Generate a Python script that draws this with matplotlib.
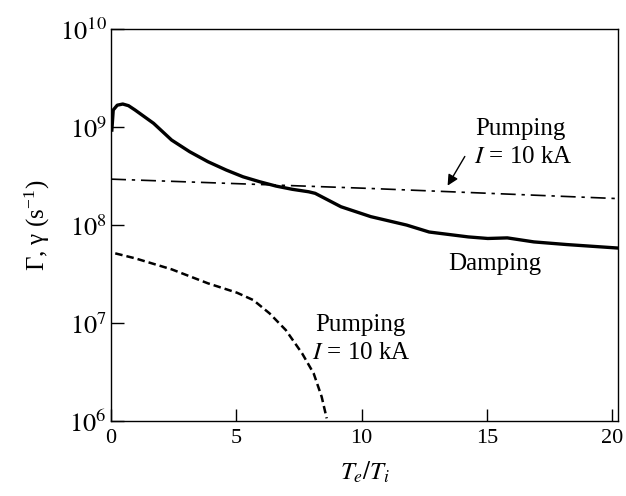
import numpy as np
import matplotlib
matplotlib.use("Agg")
import matplotlib.pyplot as plt

plt.rcParams["font.family"] = ["Liberation Serif", "DejaVu Serif"]
plt.rcParams["mathtext.fontset"] = "stix"

# ── Data (x = Te/Ti, y = rate in s^-1) ───────────────────────────────────────
damping_x = [0.03, 0.09, 0.25, 0.47, 0.7, 0.96, 1.7, 2.42, 3.14, 3.87, 4.60,
             5.27, 5.94, 6.59, 7.24, 7.89, 8.15, 9.18, 10.37, 11.8, 12.7,
             14.26, 15.04, 15.82, 16.88, 18.19, 20.25]
damping_logy = [8.954, 9.176, 9.225, 9.237, 9.22, 9.176, 9.040, 8.869, 8.750,
                8.648, 8.563, 8.494, 8.443, 8.399, 8.366, 8.341, 8.325, 8.188,
                8.087, 8.001, 7.930, 7.880, 7.864, 7.870, 7.829, 7.802, 7.766]

pump_hi_x = [0.0, 5.0, 10.23, 15.0, 20.25]
pump_hi_logy = [8.470, 8.424, 8.376, 8.326, 8.271]

pump_lo_x = [0.17, 0.97, 2.42, 3.87, 5.03, 5.68, 6.33, 6.98, 7.63, 8.09,
             8.41, 8.61]
pump_lo_logy = [7.712, 7.661, 7.549, 7.406, 7.310, 7.235, 7.099, 6.928,
                6.690, 6.486, 6.247, 6.027]

x_ticks = [0, 5, 10, 15, 20]
y_ticks = [1e6, 1e7, 1e8, 1e9, 1e10]
y_ticklabels = [r"$10^{6}$", r"$10^{7}$", r"$10^{8}$", r"$10^{9}$", r"$10^{10}$"]

# ── Figure ────────────────────────────────────────────────────────────────────
fig = plt.figure(figsize=(6.26, 4.96), dpi=100)
ax = fig.add_axes([0.1773, 0.1512, 0.8104, 0.7897])

ax.plot(damping_x, 10 ** np.array(damping_logy), color="black", linewidth=2.4,
        solid_capstyle="butt", solid_joinstyle="round")
ax.plot(pump_hi_x, 10 ** np.array(pump_hi_logy), color="black", linewidth=1.2,
        linestyle=(0, (9, 3.5, 2, 3.5)))
ax.plot(pump_lo_x, 10 ** np.array(pump_lo_logy), color="black", linewidth=1.8,
        linestyle=(0, (3.0, 1.6)))

ax.set_yscale("log")
ax.set_xlim(0, 20.25)
ax.set_ylim(1e6, 1e10)
ax.set_xticks(x_ticks)
ax.set_xticklabels([str(t) for t in x_ticks], fontsize=16)
ax.set_yticks(y_ticks)
ax.set_yticklabels(y_ticklabels, fontsize=19)
ax.yaxis.set_minor_locator(matplotlib.ticker.NullLocator())
ax.tick_params(axis="both", direction="in", length=9, width=1.0, pad=3)
ax.tick_params(axis="x", pad=6)
for sp in ax.spines.values():
    sp.set_linewidth(1.0)

ax.set_xlabel(r"$T_e/T_i$", fontsize=18, labelpad=8)
ax.set_ylabel("Γ, γ (s$^{\\mathregular{-1}}$)", fontsize=18, labelpad=6)

# annotations
ax.text(14.55, 10 ** 8.983, "Pumping", fontsize=18, ha="left", va="center")
ax.text(14.5, 10 ** 8.694, r"$I$ = 10 kA", fontsize=18, ha="left", va="center")
ax.annotate("", xy=(13.38, 10 ** 8.379), xytext=(14.18, 10 ** 8.726),
            arrowprops=dict(arrowstyle="-|>", color="black", lw=1.0,
                            mutation_scale=16))
ax.text(15.3, 10 ** 7.608, "Damping", fontsize=18, ha="center", va="center")
ax.text(8.15, 10 ** 6.98, "Pumping", fontsize=18, ha="left", va="center")
ax.text(8.03, 10 ** 6.693, r"$I$ = 10 kA", fontsize=18, ha="left", va="center")

fig.savefig("out.png", dpi=100)
plt.close()
